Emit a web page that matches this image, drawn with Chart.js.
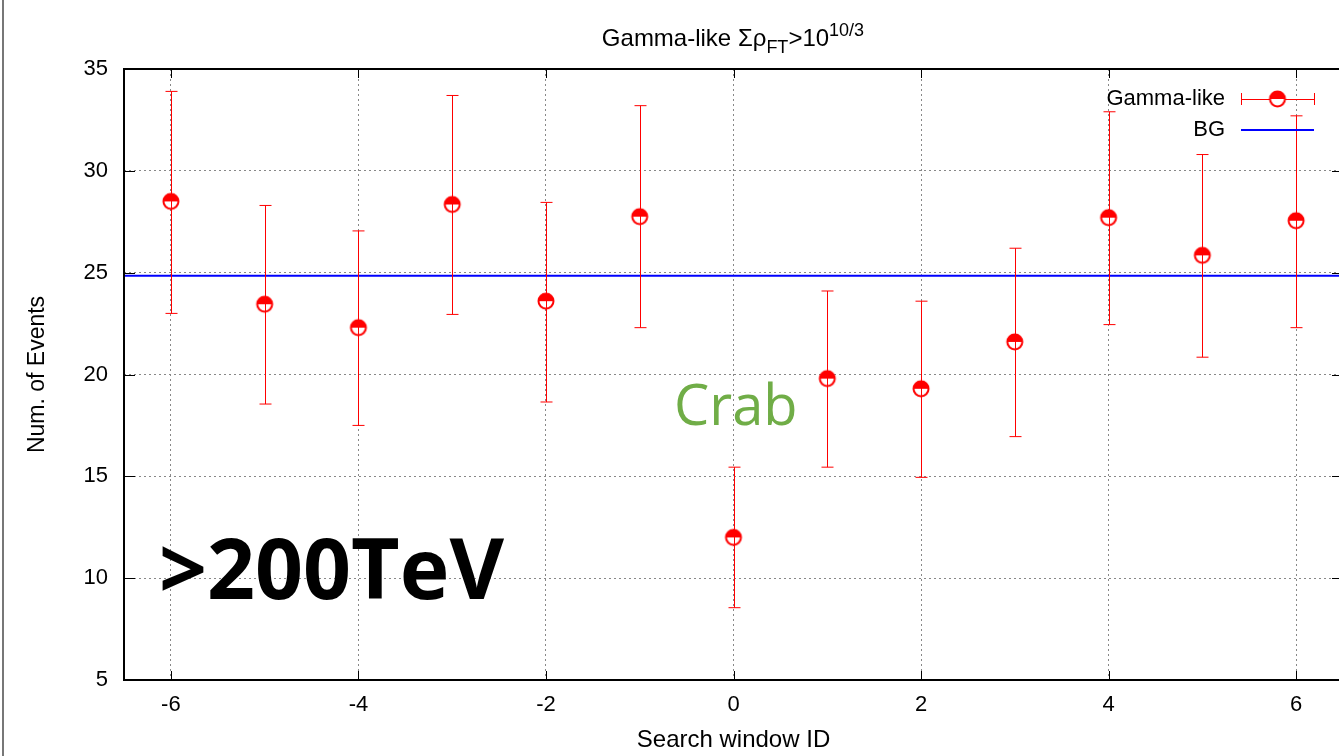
<!DOCTYPE html>
<html><head><meta charset="utf-8">
<script src="https://cdn.jsdelivr.net/npm/chart.js@4.4.0/dist/chart.umd.min.js"></script>
<style>
html,body{margin:0;padding:0;background:#fff;overflow:hidden;width:1339px;height:756px}
#wrap{position:absolute;left:0;top:0;width:1360px;height:756px}
#edge{position:absolute;left:2px;top:0;width:2px;height:756px;background:#777}
.t{position:absolute;white-space:nowrap;line-height:1;color:#000}
#title{font-family:"Liberation Sans",Arial,sans-serif;font-size:24px;left:433px;width:600px;text-align:center;top:21px}
#title sub{font-size:18px;vertical-align:-7px;line-height:1}
#title sup{font-size:18px;vertical-align:10px;line-height:1}
#crab{font-family:"Open Sans",sans-serif;font-size:56px;color:#70ad47;left:674px;top:375px}
#energy{font-family:"Open Sans",sans-serif;font-weight:bold;font-size:84px;color:#000;left:159px;top:525px}
</style></head><body>
<div id="wrap"><canvas id="c" width="1360" height="756"></canvas></div>
<div id="edge"></div>
<div class="t" id="title">Gamma-like Σρ<sub>FT</sub>&gt;10<sup>10/3</sup></div>
<div class="t" id="crab">Crab</div>
<div class="t" id="energy">&gt;200TeV</div>
<script>
// ---- data ----
const windowIds = [-6, -5, -4, -3, -2, -1, 0, 1, 2, 3, 4, 5, 6];
const gammaCounts = [28.5, 23.45, 22.3, 28.35, 23.6, 27.75, 12.0, 19.8, 19.3, 21.6, 27.7, 25.85, 27.55];
const errUpper = [33.9, 28.3, 27.05, 33.7, 28.45, 33.2, 15.45, 24.1, 23.6, 26.2, 32.9, 30.8, 32.7];
const errLower = [23.0, 18.55, 17.5, 22.95, 18.65, 22.3, 8.55, 15.45, 14.95, 16.95, 22.45, 20.85, 22.3];
const bgLevel = [24.85];
const xTickValues = [-6, -4, -2, 0, 2, 4, 6];
const yTickValues = [5, 10, 15, 20, 25, 30, 35];
const xRange = [-6.5, 6.5];
const yRange = [5, 35];

// ---- marker ----
function makeMarker() {
  const c = document.createElement('canvas');
  c.width = 20; c.height = 20;
  const g = c.getContext('2d');
  const cx = 10, cy = 10, r = 7.5;
  g.beginPath(); g.arc(cx, cy, r, 0, Math.PI * 2); g.fillStyle = '#fff'; g.fill();
  g.beginPath(); g.arc(cx, cy, r, Math.PI, 0); g.closePath(); g.fillStyle = '#ff0000'; g.fill();
  g.beginPath(); g.arc(cx, cy, r, 0, Math.PI * 2); g.lineWidth = 2; g.strokeStyle = '#ff0000'; g.stroke();
  return c;
}
const marker = makeMarker();

const FONT = '"Liberation Sans", Arial, sans-serif';

const decor = {
  id: 'decor',
  afterDatasetsDraw(chart) {
    const ctx = chart.ctx, a = chart.chartArea;
    const xs = chart.scales.x, ys = chart.scales.y;
    ctx.save();
    // error bars
    ctx.strokeStyle = '#ff0000'; ctx.lineWidth = 1;
    windowIds.forEach((id, i) => {
      const px = Math.round(xs.getPixelForValue(id)) + 0.5;
      const pt = ys.getPixelForValue(errUpper[i]);
      const pb = ys.getPixelForValue(errLower[i]);
      ctx.beginPath();
      ctx.moveTo(px, pt); ctx.lineTo(px, pb);
      ctx.moveTo(px - 6, pt); ctx.lineTo(px + 6, pt);
      ctx.moveTo(px - 6, pb); ctx.lineTo(px + 6, pb);
      ctx.stroke();
    });
    // inner tick marks
    ctx.strokeStyle = '#000'; ctx.lineWidth = 1;
    ctx.beginPath();
    xTickValues.forEach(v => {
      const px = Math.round(xs.getPixelForValue(v)) + 0.5;
      ctx.moveTo(px, a.bottom); ctx.lineTo(px, a.bottom - 9);
      ctx.moveTo(px, a.top); ctx.lineTo(px, a.top + 9);
    });
    yTickValues.forEach(v => {
      const py = Math.round(ys.getPixelForValue(v)) + 0.5;
      ctx.moveTo(a.left, py); ctx.lineTo(a.left + 11, py);
      ctx.moveTo(a.right, py); ctx.lineTo(a.right - 11, py);
    });
    ctx.stroke();
    // frame
    ctx.lineWidth = 2;
    ctx.strokeRect(a.left, a.top, a.right - a.left, a.bottom - a.top);
    // legend
    const lx1 = a.right - 102, lx2 = a.right - 29, lm = (lx1 + lx2) / 2;
    const ly1 = a.top + 30, ly2 = a.top + 61;
    ctx.font = '22px ' + FONT;
    ctx.textAlign = 'right'; ctx.textBaseline = 'middle';
    ctx.fillStyle = '#000';
    ctx.fillText(chart.data.datasets[0].label, lx1 - 16, ly1);
    ctx.fillText(chart.data.datasets[1].label, lx1 - 16, ly2);
    ctx.strokeStyle = '#ff0000'; ctx.lineWidth = 1;
    ctx.beginPath();
    ctx.moveTo(lx1, ly1 + 0.5); ctx.lineTo(lx2, ly1 + 0.5);
    ctx.moveTo(lx1 + 0.5, ly1 - 6); ctx.lineTo(lx1 + 0.5, ly1 + 6);
    ctx.moveTo(lx2 + 0.5, ly1 - 6); ctx.lineTo(lx2 + 0.5, ly1 + 6);
    ctx.stroke();
    ctx.drawImage(marker, lm - 10, ly1 - 10);
    ctx.strokeStyle = '#0000ff'; ctx.lineWidth = 2;
    ctx.beginPath(); ctx.moveTo(lx1, ly2); ctx.lineTo(lx2, ly2); ctx.stroke();
    ctx.restore();
  }
};

new Chart(document.getElementById('c'), {
  type: 'scatter',
  data: {
    datasets: [
      {
        label: 'Gamma-like',
        data: windowIds.map((id, i) => ({ x: id, y: gammaCounts[i] })),
        pointStyle: marker,
        pointRadius: 10,
        showLine: false,
        order: 1
      },
      {
        label: 'BG',
        data: xRange.map(x => ({ x: x, y: bgLevel[0] })),
        showLine: true,
        borderColor: '#0000ff',
        borderWidth: 2,
        pointRadius: 0,
        order: 2
      }
    ]
  },
  plugins: [decor],
  options: {
    responsive: false,
    animation: false,
    events: [],
    layout: { padding: { top: 69, right: 17, left: 0, bottom: 0 } },
    plugins: { legend: { display: false }, tooltip: { enabled: false }, title: { display: false } },
    scales: {
      x: {
        type: 'linear', min: xRange[0], max: xRange[1],
        afterBuildTicks: s => { s.ticks = xTickValues.map(v => ({ value: v })); },
        afterFit: s => { s.height = 76; },
        ticks: { font: { family: FONT, size: 22 }, color: '#000', padding: 12, maxRotation: 0,
                 callback: v => String(v) },
        grid: { color: '#888', lineWidth: 1, drawTicks: false },
        border: { display: false, dash: [2, 3] },
        title: { display: true, text: 'Search window ID', font: { family: FONT, size: 24 }, color: '#000', padding: { top: 0, bottom: 1 } }
      },
      y: {
        type: 'linear', min: yRange[0], max: yRange[1],
        afterBuildTicks: s => { s.ticks = yTickValues.map(v => ({ value: v })); },
        afterFit: s => { s.width = 124; },
        ticks: { font: { family: FONT, size: 22 }, color: '#000', padding: 16, callback: v => String(v) },
        grid: { color: '#888', lineWidth: 1, drawTicks: false },
        border: { display: false, dash: [2, 3] },
        title: { display: true, text: 'Num. of Events', font: { family: FONT, size: 23 }, color: '#000', padding: { top: 24, bottom: 0 } }
      }
    }
  }
});
</script>
</body></html>
